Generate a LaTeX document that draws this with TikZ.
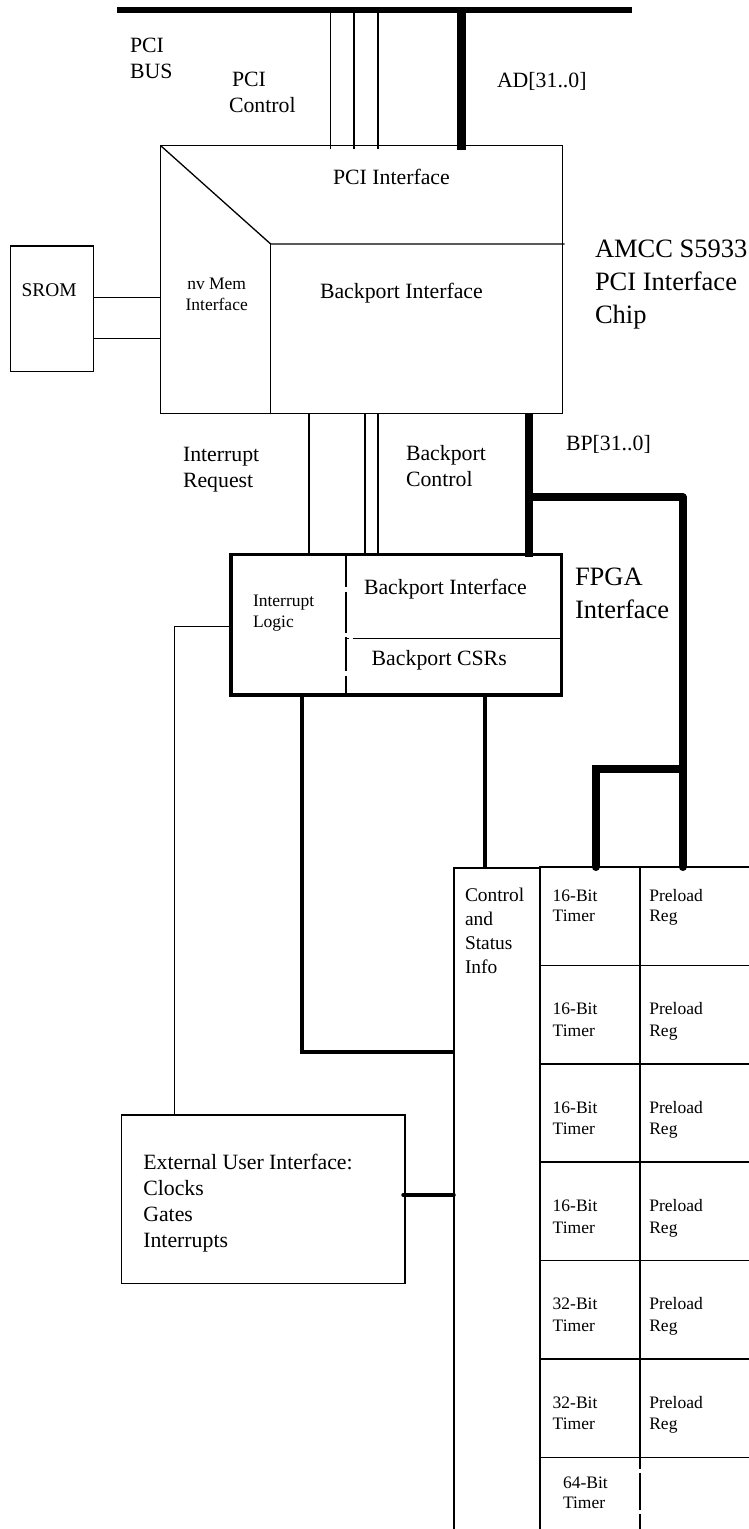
\documentclass[tikz,border=0pt]{standalone}
\usepackage{fontspec}
\setmainfont{Liberation Serif}
\usetikzlibrary{calc}
\newcommand\fmain{\fontsize{21.8}{26}\selectfont}
\newcommand\fbig{\fontsize{26.5}{33}\selectfont}
\newcommand\fsmall{\fontsize{17.5}{21}\selectfont}
\newcommand\fmid{\fontsize{19.4}{24}\selectfont}
\newcommand\ftimA{\fontsize{17.5}{20}\selectfont}
\newcommand\ftimB{\fontsize{17.5}{21.6}\selectfont}
\newcommand\lns[1]{\begin{tabular}[t]{@{}l@{}}#1\end{tabular}}
\newcommand\clns[1]{\begin{tabular}[t]{@{}c@{}}#1\end{tabular}}
\begin{document}
\begin{tikzpicture}[x=1pt,y=-1pt,
  thinline/.style={line width=1.3pt},
  midline/.style={line width=1.5pt},
  heavy/.style={line width=4pt},
  busline/.style={line width=8pt},
  box/.style={draw, line width=1.3pt, inner sep=0pt, outer sep=0pt, anchor=north west, rectangle},
  cell/.style={box, line width=1.5pt, minimum width=100pt, minimum height=98.4pt},
  pcell/.style={cell, minimum width=130pt},
  txt/.style={inner sep=0pt, outer sep=0pt, anchor=base west}]
\useasboundingbox (0,0) rectangle (749,1529);

% boxes
\node[box, minimum width=83pt, minimum height=125.7pt] (srom) at (10.3,246) {};
\node[box, minimum width=402pt, minimum height=267.6pt] (amcc) at (160.7,145.7) {};
\node[box, line width=3.3pt, minimum width=330.7pt, minimum height=140.7pt] (fpga) at (231,554.3) {};
\node[box, minimum width=283.3pt, minimum height=168.3pt] (ext) at (121.7,1115) {};
\node[box, midline, minimum width=86pt, minimum height=700pt] (ctrl) at (454,868) {};
\foreach \i/\t in {1/867,2/965.4,3/1063.8,4/1162.2,5/1260.6,6/1359} {
  \node[cell] (t\i) at (540,\t) {};
  \node[pcell] (p\i) at (640,\t) {};
}
\node[box, draw=none, minimum width=100pt, minimum height=100pt] (t7) at (540,1457.4) {};
\node[box, draw=none, minimum width=130pt, minimum height=100pt] (p7) at (640,1457.4) {};
\draw[midline] (t7.south west) -- (t7.north west) -- (p7.north east);
\draw[midline, dash pattern=on 12pt off 3.4pt on 37.3pt off 4pt on 80pt] (t7.north east) -- (t7.south east);

% PCI bus
\coordinate (busL) at (117,10.2);
\coordinate (busR) at (632,10.2);
\draw[line width=5.5pt] (busL) -- (busR);
\foreach \x in {330.7,354,378} \draw[thinline] (\x,0 |- busL) -- ($(\x,0 |- amcc.north)+(0,3)$);
\draw[line width=8.7pt] (461.7,0 |- busL) -- ($(461.7,0 |- amcc.north)+(0,4)$);

% SROM links
\draw[midline] (srom.east |- 0,297.3) -- (amcc.west |- 0,297.3);
\draw[midline] (srom.east |- 0,338.7) -- (amcc.west |- 0,338.7);

% AMCC interior
\coordinate (amccK) at (270.7,244);
\draw[thinline] (amcc.north west) -- (amccK) -- ($(amcc.east |- amccK)+(2,0)$);
\draw[thinline] (amccK) -- (amccK |- amcc.south);

% AMCC to FPGA
\draw[thinline] (309,0 |- amcc.south) -- (309,0 |- fpga.north);
\foreach \x in {365,378} \draw[thinline] (\x,0 |- amcc.south) -- ($(\x,0 |- fpga.north)+(0,2)$);
\draw[busline] (529.3,0 |- amcc.south) -- ($(529.3,0 |- fpga.north)+(0,3)$);
\coordinate (bpJ) at (529.3,497.3);
\draw[busline, line cap=round, line join=round] (bpJ) -- (682.7,497.3) -- (682.7,0 |- p1.north);
\coordinate (bpK) at (682.7,769.3);
\draw[busline, line cap=round, line join=miter] (bpK) -- (595.7,769.3) -- (595.7,0 |- t1.north);

% FPGA interior
\draw[midline, dash pattern=on 32.4pt off 5pt on 41.3pt off 4pt on 34pt off 4.5pt on 40pt] (346,0 |- fpga.north) -- (346,0 |- fpga.south);
\draw[midline, dash pattern=on 3pt off 3.7pt on 300pt] (346,638.7) -- (fpga.east |- 0,638.7);

% FPGA to others
\draw[midline] (fpga.west |- 0,626.7) -- (174.3,626.7) -- (174.3,0 |- ext.north);
\draw[heavy] (302.3,0 |- fpga.south) -- (302.3,1052) -- (ctrl.west |- 0,1052);
\draw[heavy] (485,0 |- fpga.south) -- (485,0 |- ctrl.north);
\draw[line width=3.5pt, line cap=round] ($(ext.east |- 0,1195)+(-2,0)$) -- (ctrl.west |- 0,1195);

% labels
\node[txt, font=\fmain] (pcibus) at (130,52) {\lns{PCI\\BUS}};
\node[txt, font=\fmain] (pcictl) at (229,86) {\lns{\hspace{3pt}PCI\\Control}};
\node[txt, font=\fmain] (adlab) at (497,87) {AD[31..0]};
\node[txt, font=\fmain] (pciif) at (333,184.5) {PCI Interface};
\node[txt, font=\fmain] (bpif1) at (320,298) {Backport Interface};
\node[txt, font=\fsmall, anchor=base] (nvmem) at (216.7,289.3) {\clns{nv Mem\\Interface}};
\node[txt, font=\fmid] (sromlab) at (21.7,296.7) {SROM};
\node[txt, font=\fbig] (amcclab) at (595,257) {\lns{AMCC S5933\\PCI Interface\\Chip}};
\node[txt, font=\fmain] (irq) at (183,461) {\lns{Interrupt\\Request}};
\node[txt, font=\fmain] (bpc) at (406,460) {\lns{Backport\\Control}};
\node[txt, font=\fmain] (bplab) at (566,450) {BP[31..0]};
\node[txt, font=\fbig] (fpgalab) at (575,585.7) {\lns{FPGA\\Interface}};
\node[txt, font=\fmain] (bpif2) at (364,594) {Backport Interface};
\node[txt, font=\fmain] (csr) at (371.7,665) {Backport CSRs};
\node[txt, font=\fsmall] (intlog) at (253,606) {\lns{Interrupt\\Logic}};
\node[txt, font=\fmid] (ctrllab) at (465,901.7) {\lns{Control\\and\\Status\\Info}};
\node[txt, font=\fmain] (extlab) at (143.3,1169.3) {\lns{External User Interface:\\Clocks\\Gates\\Interrupts}};

% timer labels
\node[txt, font=\ftimA] (tx1) at (552.7,901.7) {\lns{16-Bit\\Timer}};
\node[txt, font=\ftimA] (px1) at (649.3,901.7) {\lns{Preload\\Reg}};
\foreach \i/\t/\b in {2/965.4/16,3/1063.8/16,4/1162.2/16,5/1260.6/32,6/1359/32} {
  \node[txt, font=\ftimB] (tx\i) at (552.7,\t+49.3) {\lns{\b-Bit\\Timer}};
  \node[txt, font=\ftimB] (px\i) at (649.3,\t+49.3) {\lns{Preload\\Reg}};
}
\node[txt, font=\ftimA] (tx7) at (563,1488) {\lns{64-Bit\\Timer}};
\end{tikzpicture}
\end{document}
